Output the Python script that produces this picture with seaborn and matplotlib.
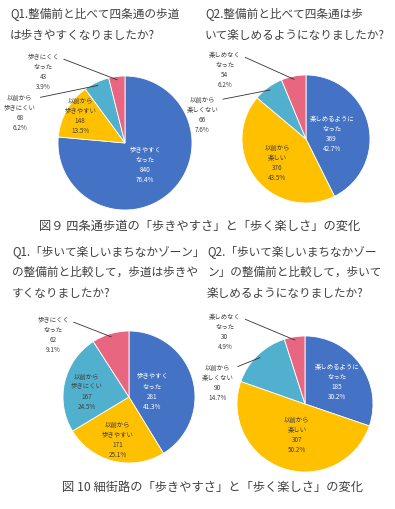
import numpy as np
import pandas as pd
import seaborn as sns
import matplotlib
matplotlib.use("Agg")
import matplotlib.pyplot as plt

# 図9 四条通歩道
q1_labels = ["歩きやすく\nなった", "以前から\n歩きやすい", "以前から\n歩きにくい", "歩きにくく\nなった"]
q1_counts = [840, 148, 68, 43]
q1_pct = ["76.4%", "13.5%", "6.2%", "3.9%"]

q2_labels = ["楽しめるように\nなった", "以前から\n楽しい", "以前から\n楽しくない", "楽しめなく\nなった"]
q2_counts = [369, 376, 66, 54]
q2_pct = ["42.7%", "43.5%", "7.6%", "6.2%"]

# 図10 細街路
q3_labels = ["歩きやすく\nなった", "以前から\n歩きやすい", "以前から\n歩きにくい", "歩きにくく\nなった"]
q3_counts = [281, 171, 167, 62]
q3_pct = ["41.3%", "25.1%", "24.5%", "9.1%"]

q4_labels = ["楽しめるように\nなった", "以前から\n楽しい", "以前から\n楽しくない", "楽しめなく\nなった"]
q4_counts = [185, 307, 90, 30]
q4_pct = ["30.2%", "50.2%", "14.7%", "4.9%"]

W, H = 395, 509

sns.set_theme(style="white")
plt.rcParams['font.family'] = ['Noto Sans CJK JP', 'DejaVu Sans']

colors = ["#4472C4", "#FFC000", "#52B0CF", "#E8667F"]
txt_col = "#404040"

fig = plt.figure(figsize=(W / 100, H / 100), dpi=100)
fig.patch.set_facecolor("white")


def px(x, y):
    return x / W, 1 - y / H


def draw_pie(cx, cy, r, labels, counts, pct, lab_pos, outside):
    # pie axes placed by pixel centre/radius
    ax = fig.add_axes([(cx - r) / W, 1 - (cy + r) / H, 2 * r / W, 2 * r / H])
    df = pd.DataFrame({"label": labels, "n": counts, "pct": pct})
    wedges, _ = ax.pie(df["n"], colors=colors, startangle=90, counterclock=False,
                       radius=1, wedgeprops=dict(edgecolor="white", linewidth=0.6))
    ax.set_xlim(-1, 1)
    ax.set_ylim(-1, 1)
    ax.set_aspect("auto")
    ax.axis("off")
    for i, row in df.iterrows():
        s = f"{row['label']}\n{row['n']}\n{row['pct']}"
        tx, ty = lab_pos[i]
        c = "white" if i == 0 else txt_col
        if outside[i]:
            w = wedges[i]
            ang = np.deg2rad((w.theta1 + w.theta2) / 2)
            ax.annotate(s, xy=(0.95 * np.cos(ang), 0.95 * np.sin(ang)), xytext=(tx, ty),
                        ha="center", va="center", fontsize=4.6, color=txt_col,
                        linespacing=1.35, annotation_clip=False,
                        arrowprops=dict(arrowstyle="-", color="#333333", lw=0.6,
                                        relpos=(1, 0.88), shrinkA=1, shrinkB=0))
        else:
            ax.text(tx, ty, s, ha="center", va="center", fontsize=4.6, color=c,
                    linespacing=1.35)


draw_pie(125, 143, 67, q1_labels, q1_counts, q1_pct,
         [(0.3, -0.33), (-0.67, 0.4), (-1.57, 0.45), (-1.22, 1.06)],
         [False, False, True, True])
draw_pie(306, 139, 64, q2_labels, q2_counts, q2_pct,
         [(0.4, 0.08), (-0.45, -0.38), (-1.62, 0.38), (-1.27, 1.08)],
         [False, False, True, True])
draw_pie(129, 397, 66, q3_labels, q3_counts, q3_pct,
         [(0.35, 0.08), (-0.17, -0.65), (-0.64, 0.08), (-1.15, 0.94)],
         [False, False, False, True])
draw_pie(305, 404, 68, q4_labels, q4_counts, q4_pct,
         [(0.47, 0.32), (-0.12, -0.46), (-1.29, 0.31), (-1.18, 1.06)],
         [False, False, True, True])

title_kw = dict(fontsize=8.4, color=txt_col, ha="left", va="center")
fig.text(*px(10, 15), "Q1.整備前と比べて四条通の歩道", **title_kw)
fig.text(*px(10, 35), "は歩きやすくなりましたか?", **title_kw)
fig.text(*px(205, 15), "Q2.整備前と比べて四条通は歩", **title_kw)
fig.text(*px(205, 35), "いて楽しめるようになりましたか?", **title_kw)

fig.text(*px(200, 226), "図９ 四条通歩道の「歩きやすさ」と「歩く楽しさ」の変化",
         fontsize=8.8, color=txt_col, ha="center", va="center")

fig.text(*px(12, 252), "Q1.「歩いて楽しいまちなかゾーン」", **title_kw)
fig.text(*px(12, 272), "の整備前と比較して，歩道は歩きや", **title_kw)
fig.text(*px(12, 293), "すくなりましたか?", **title_kw)
fig.text(*px(207, 252), "Q2.「歩いて楽しいまちなかゾー", **title_kw)
fig.text(*px(207, 272), "ン」の整備前と比較して，歩いて", **title_kw)
fig.text(*px(207, 293), "楽しめるようになりましたか?", **title_kw)

fig.text(*px(212, 487), "図 10 細街路の「歩きやすさ」と「歩く楽しさ」の変化",
         fontsize=8.8, color=txt_col, ha="center", va="center")

fig.savefig("out.png", dpi=100, facecolor="white")
